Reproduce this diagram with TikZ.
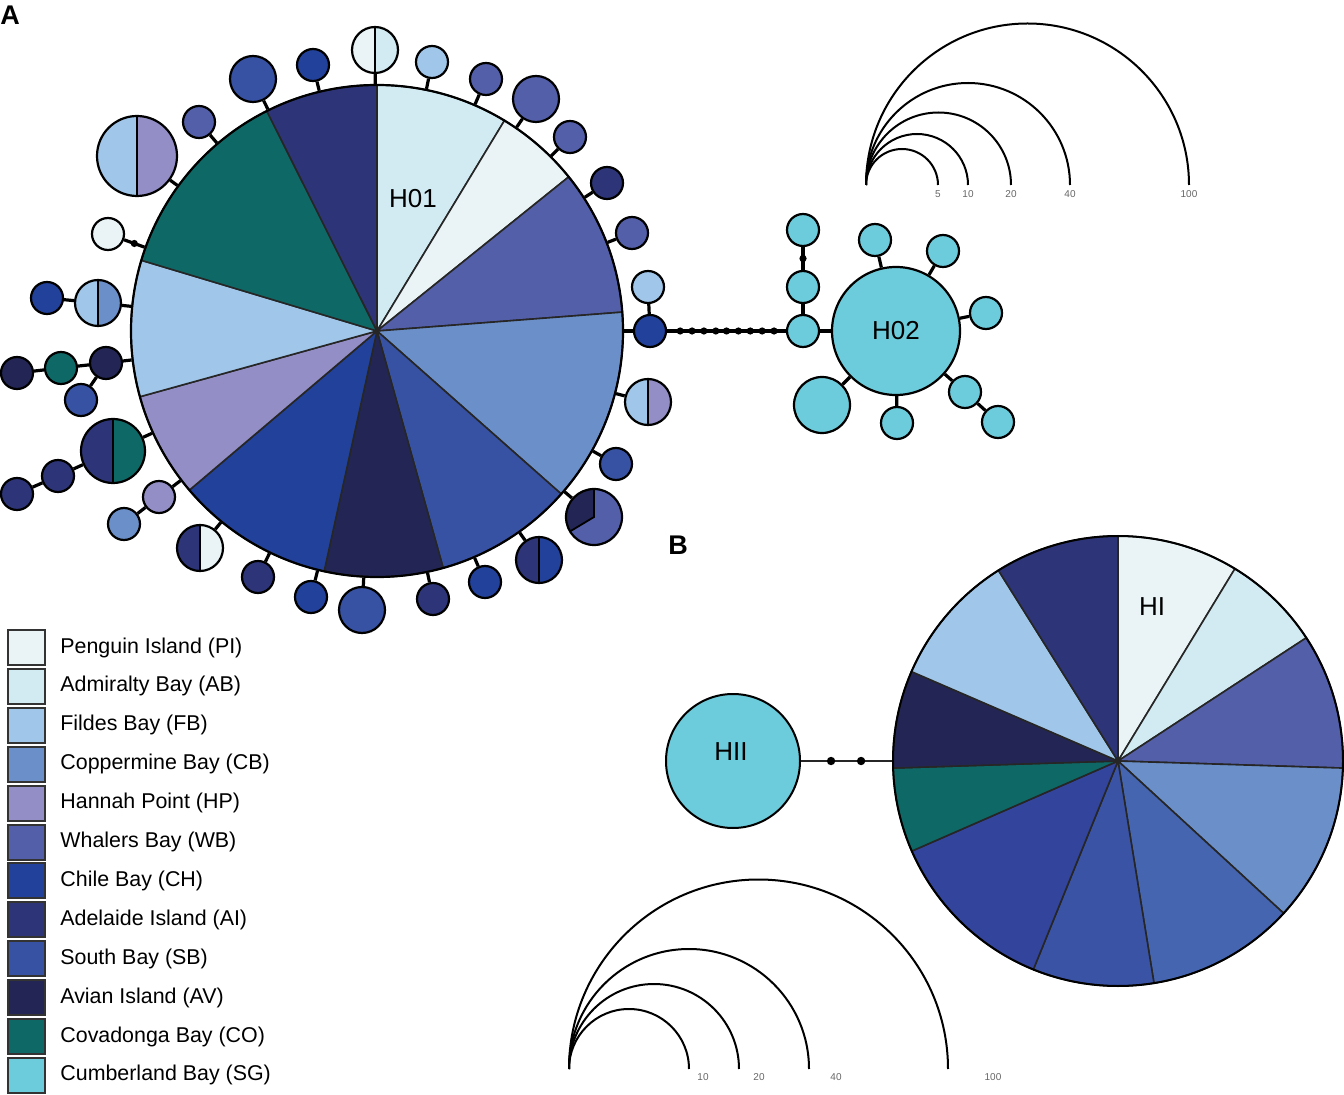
\documentclass[tikz,border=0pt]{standalone}
\usepackage{fontspec}
\setmainfont{Liberation Sans}
\definecolor{cPI}{HTML}{EAF4F7}
\definecolor{cAB}{HTML}{D2EBF2}
\definecolor{cFB}{HTML}{A0C6E9}
\definecolor{cCB}{HTML}{6B8FC8}
\definecolor{cHP}{HTML}{938FC6}
\definecolor{cWB}{HTML}{545FAA}
\definecolor{cCH}{HTML}{22419A}
\definecolor{cAI}{HTML}{2D3578}
\definecolor{cSB}{HTML}{3852A3}
\definecolor{cAV}{HTML}{232654}
\definecolor{cCO}{HTML}{0E6966}
\definecolor{cSG}{HTML}{6CCCDB}
\definecolor{cBa}{HTML}{4565B0}
\definecolor{cBb}{HTML}{3A53A5}
\definecolor{cBc}{HTML}{33449C}
\tikzset{
  hap/.style={circle, draw, line width=1.1pt, inner sep=0pt, minimum size=#1},
  hap/.default=16pt,
  halves/.style 2 args={path picture={
    \fill[#1] (path picture bounding box.south west) rectangle (path picture bounding box.north);
    \fill[#2] (path picture bounding box.north) rectangle (path picture bounding box.south east);
    \draw[line width=0.9pt] (path picture bounding box.north) -- (path picture bounding box.south);}},
  stem/.style={line width=1.6pt},
  mut/.style={circle, fill=black, inner sep=0pt, minimum size=3.6pt},
  wedge/.style={draw=black!85, line width=0.8pt},
  hlab/.style={font=\fontsize{13}{14}\selectfont},
  scalelab/.style={font=\fontsize{5}{6}\selectfont, text=black!60, inner sep=0pt},
  legbox/.style={draw=black!80, line width=1pt, minimum width=18.5pt, minimum height=17.5pt, inner sep=0pt}
}
\begin{document}
\begin{tikzpicture}[x=0.5pt, y=0.5pt, font=\fontsize{10.7}{12}\selectfont]
\useasboundingbox (0,0) rectangle (1344,1094);

\node[font=\fontsize{13.5}{14}\bfseries] (labA) at (10,1079) {A};
\node[font=\fontsize{13.5}{14}\bfseries] (labB) at (678,549) {B};

% panel A: H01
\foreach \a/\b/\c in {90/58.8/cAB, 58.8/38.8/cPI, 38.8/4.4/cWB, 4.4/-41.5/cCB,
    -41.5/-74.4/cSB, -74.4/-102.4/cAV, -102.4/-139.7/cCH, -139.7/-164.5/cHP,
    -164.5/-196.7/cFB, -196.7/-243.4/cCO, -243.4/-270/cAI}
  \filldraw[wedge, fill=\c] (377,763) -- ++(\a:123pt) arc[start angle=\a, end angle=\b, radius=123pt] -- cycle;
\node[hap=246pt, line width=1.1pt] (H01) at (377,763) {};
\node[hlab] (t01) at (413,895) {H01};

\node[hap=23pt, halves={cPI}{cAB}] (s1) at (375,1044) {};
\node[hap, fill=cCH] (s2) at (313,1029) {};
\node[hap=23pt, fill=cSB] (s3) at (253,1015) {};
\node[hap, fill=cWB] (s4) at (199,972) {};
\node[hap=40pt, halves={cFB}{cHP}] (s5) at (137,938) {};
\node[hap, fill=cPI] (s6) at (108,860) {};
\node[hap=23pt, halves={cFB}{cCB}] (s7) at (98,791) {};
\node[hap, fill=cCH] (s8) at (47,796) {};
\node[hap, fill=cAV] (s9) at (106,731) {};
\node[hap, fill=cCO] (s10) at (61,726) {};
\node[hap, fill=cAV] (s11) at (17,721) {};
\node[hap, fill=cSB] (s12) at (81,694) {};
\node[hap=32pt, halves={cAI}{cCO}] (s13) at (113,643) {};
\node[hap, fill=cAI] (s14) at (58,618) {};
\node[hap, fill=cAI] (s15) at (17,600) {};
\node[hap, fill=cHP] (s16) at (159,597) {};
\node[hap, fill=cCB] (s17) at (124,570) {};
\node[hap=23pt, halves={cAI}{cPI}] (s18) at (200,546) {};
\node[hap, fill=cAI] (s19) at (258,517) {};
\node[hap, fill=cCH] (s20) at (311,497) {};
\node[hap=23pt, fill=cSB] (s21) at (362,484) {};
\node[hap, fill=cAI] (s22) at (433,495) {};
\node[hap, fill=cCH] (s23) at (485,512) {};
\node[hap=23pt, halves={cAI}{cCH}] (s24) at (539,534) {};
\node[hap=28pt, path picture={
    \fill[cWB] (path picture bounding box.south west) rectangle (path picture bounding box.north east);
    \fill[cAV] (path picture bounding box.center) -- ([shift={(90:20pt)}]path picture bounding box.center)
      -- ([shift={(150:20pt)}]path picture bounding box.center) -- ([shift={(211:20pt)}]path picture bounding box.center) -- cycle;
    \draw[line width=0.9pt] ([shift={(90:20pt)}]path picture bounding box.center) -- (path picture bounding box.center)
      -- ([shift={(211:20pt)}]path picture bounding box.center);}] (s25) at (594,577) {};
\node[hap, fill=cSB] (s26) at (616,630) {};
\node[hap=23pt, halves={cFB}{cHP}] (s27) at (648,692) {};
\node[hap, fill=cCH] (s28) at (650,763) {};
\node[hap, fill=cFB] (s29) at (648,807) {};
\node[hap, fill=cWB] (s30) at (632,861) {};
\node[hap, fill=cAI] (s31) at (607,911) {};
\node[hap, fill=cWB] (s32) at (570,957) {};
\node[hap=23pt, fill=cWB] (s33) at (536,995) {};
\node[hap, fill=cWB] (s34) at (486,1015) {};
\node[hap, fill=cFB] (s35) at (432,1032) {};

\foreach \s in {s1,s2,s3,s4,s5,s7,s9,s13,s16,s18,s19,s20,s21,s22,s23,s24,s25,s26,s27,s28,s30,s31,s32,s33,s34,s35}
  \draw[stem] (\s) -- (H01);
\draw[stem] (s6) -- node[mut] (m1) {} (H01);
\draw[stem] (s8) -- (s7);
\draw[stem] (s10) -- (s9);
\draw[stem] (s11) -- (s10);
\draw[stem] (s12) -- (s9);
\draw[stem] (s14) -- (s13);
\draw[stem] (s15) -- (s14);
\draw[stem] (s17) -- (s16);
\draw[stem] (s29) -- (s28);

% panel A: H02
\node[hap=64pt, fill=cSG, hlab] (H02) at (896,763) {H02};
\node[hap, fill=cSG] (h1) at (803,763) {};
\node[hap, fill=cSG] (h2) at (803,807) {};
\node[hap, fill=cSG] (h3) at (803,864) {};
\node[hap, fill=cSG] (h4) at (875,854) {};
\node[hap, fill=cSG] (h5) at (943,843) {};
\node[hap, fill=cSG] (h6) at (986,781) {};
\node[hap, fill=cSG] (h7) at (965,702) {};
\node[hap, fill=cSG] (h8) at (998,672) {};
\node[hap, fill=cSG] (h9) at (897,671) {};
\node[hap=28pt, fill=cSG] (h10) at (822,689) {};

\foreach \s in {h1,h4,h5,h6,h7,h9,h10}
  \draw[stem] (\s) -- (H02);
\draw[stem] (h2) -- (h1);
\draw[stem] (h3) -- node[mut] (m2) {} (h2);
\draw[stem] (h8) -- (h7);
\draw[stem] (s28) -- (h1);
\foreach \p [count=\k] in {0.11,0.21,0.31,0.41,0.5,0.6,0.7,0.8,0.9}
  \path (s28) -- (h1) node[mut, pos=\p] (c\k) {};

% scale A
\foreach \r in {18,25.5,36.25,51,80.75}
  \draw[line width=1pt] (866,909) arc[start angle=180, end angle=0, radius=\r pt];
\foreach \x/\t in {938/5, 968/10, 1011/20, 1070/40, 1189/100}
  \node[scalelab] (sa\t) at (\x,900) {\t};

% panel B
\foreach \a/\b/\c in {90/58.7/cPI, 58.7/33.2/cAB, 33.2/-1.8/cWB, -1.8/-42.6/cCB,
    -42.6/-80.8/cBa, -80.8/-112.1/cBb, -112.1/-156.4/cBc, -156.4/-178.2/cCO,
    -178.2/-203.4/cAV, -203.4/-237.9/cFB, -237.9/-270/cAI}
  \filldraw[wedge, fill=\c] (1118,333) -- ++(\a:112.5pt) arc[start angle=\a, end angle=\b, radius=112.5pt] -- cycle;
\node[hap=225pt, line width=1pt] (HI) at (1118,333) {};
\node[hlab] (tHI) at (1152,487) {HI};
\node[hap=67pt, fill=cSG, line width=1pt] (HII) at (733,333) {};
\node[hlab] (tHII) at (731,342) {HII};
\draw[line width=1.3pt, black!85] (HII) -- (HI)
  node[mut, minimum size=4.2pt, pos=0.33] (d1) {}
  node[mut, minimum size=4.2pt, pos=0.66] (d2) {};

% scale B
\foreach \r in {30,42.5,60,94.75}
  \draw[line width=1pt] (569,25) arc[start angle=180, end angle=0, radius=\r pt];
\foreach \x/\t in {703/10, 759/20, 836/40, 993/100}
  \node[scalelab] (sb\t) at (\x,17) {\t};

% legend
\foreach \c/\t [count=\i from 0] in {cPI/Penguin Island (PI), cAB/Admiralty Bay (AB),
    cFB/Fildes Bay (FB), cCB/Coppermine Bay (CB), cHP/Hannah Point (HP),
    cWB/Whalers Bay (WB), cCH/Chile Bay (CH), cAI/Adelaide Island (AI),
    cSB/South Bay (SB), cAV/Avian Island (AV), cCO/Covadonga Bay (CO),
    cSG/Cumberland Bay (SG)}
{
  \node[legbox, fill=\c] (b\i) at (26,{446.5-38.9*\i}) {};
  \node[anchor=west, inner sep=0pt] (l\i) at (60,{446.5-38.9*\i}) {\t};
}
\end{tikzpicture}
\end{document}
